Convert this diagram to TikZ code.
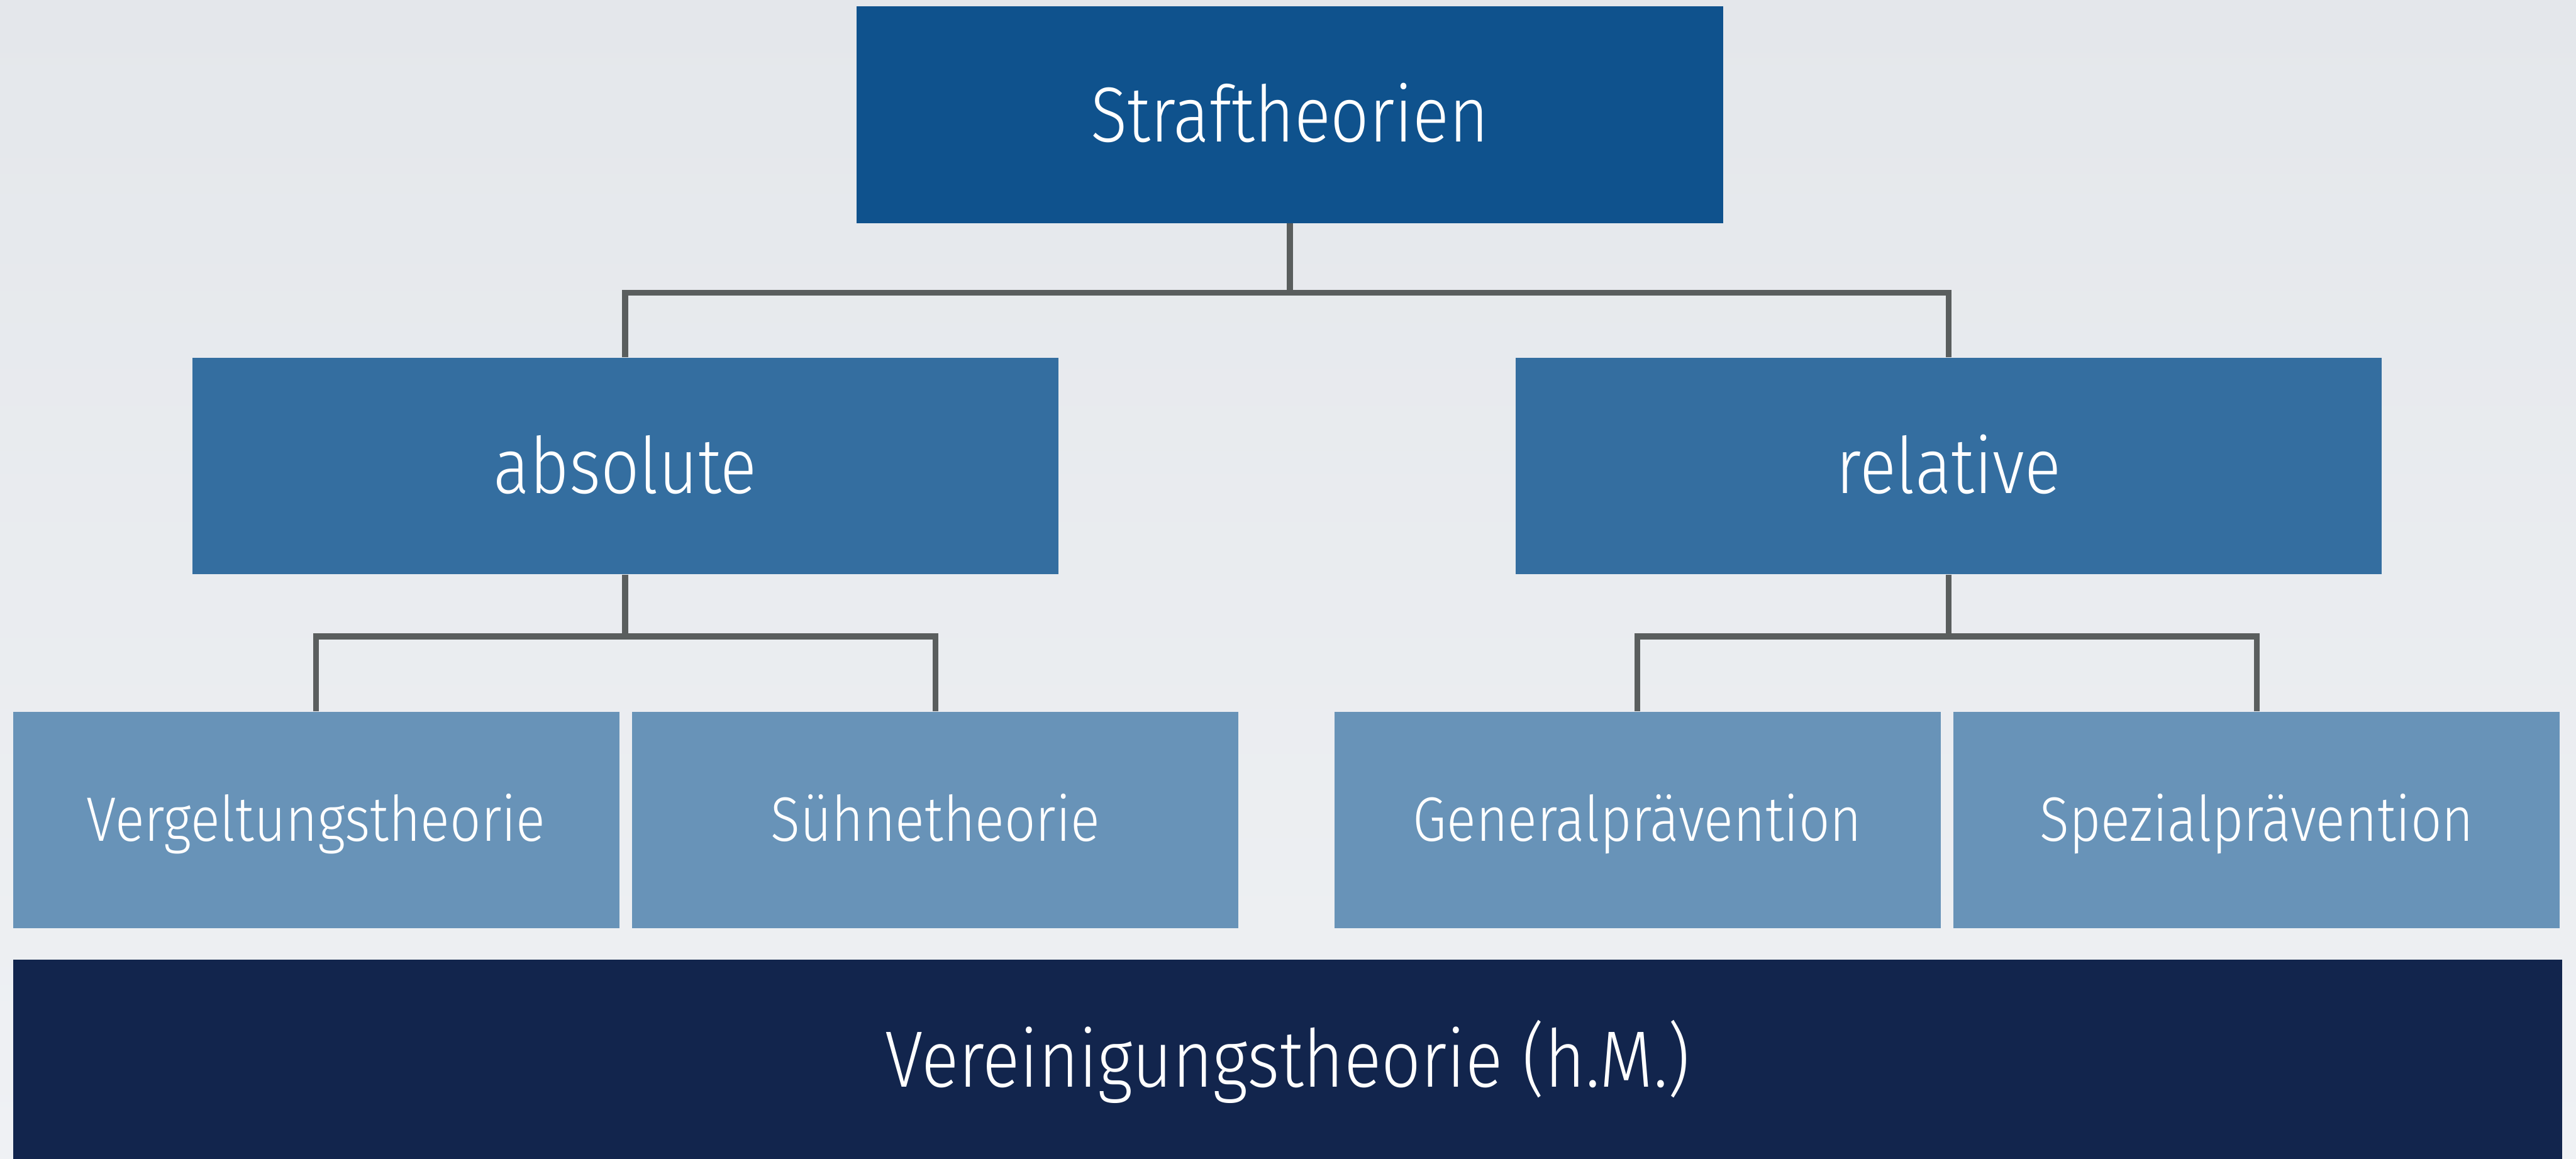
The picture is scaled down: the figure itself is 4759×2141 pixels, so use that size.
\documentclass[tikz,border=0pt]{standalone}
\usepackage{fontspec}
\setmainfont{Fira Sans Light}[FakeStretch=0.87]

\begin{document}
\begin{tikzpicture}[x=0.1mm, y=-0.1mm, line join=miter]

	\definecolor{bgTop}{RGB}{228,231,235}
	\definecolor{bgBot}{RGB}{239,241,244}
	\definecolor{blueTop}{RGB}{15,82,141}
	\definecolor{blueMid}{RGB}{52,110,160}
	\definecolor{blueLeaf}{RGB}{104,147,184}
	\definecolor{navyBase}{RGB}{18,37,77}
	\definecolor{grayLink}{RGB}{90,94,94}

	\tikzset{
		box/.style={rectangle, inner sep=0pt, text=white, text depth=0pt},
		topbox/.style={box, fill=blueTop, minimum width=160mm, minimum height=40mm, text height=10mm, font=\fontsize{41}{48}\selectfont},
		midbox/.style={box, fill=blueMid, minimum width=160mm, minimum height=40mm, text height=10mm, font=\fontsize{41}{48}\selectfont},
		leafbox/.style={box, fill=blueLeaf, minimum width=112mm, minimum height=40mm, text height=7.9mm, font=\fontsize{33}{40}\selectfont},
		basebox/.style={box, fill=navyBase, minimum width=470.9mm, minimum height=36.8mm, text height=10.3mm, font=\fontsize{42}{50}\selectfont},
		link/.style={draw=grayLink, line width=1.1mm},
	}

	% --- background
	\useasboundingbox (0,0) rectangle (4759,2141);
	\shade[top color=bgTop, bottom color=bgBot] (0,0) rectangle (4759,2141);

	% --- boxes
	\node[topbox] (straf) at (2383,212) {Straftheorien};

	\node[midbox] (absolut) at (1155,861) {absolute};
	\node[midbox] (relativ) at (3600,861) {relative};

	\node[leafbox] (vergeltung) at (584,1515) {Vergeltungstheorie};
	\node[leafbox] (suehne) at (1728,1515) {Sühnetheorie};
	\node[leafbox] (general) at (3025,1515) {Generalprävention};
	\node[leafbox] (spezial) at (4169,1515) {Spezialprävention};

	\node[basebox] (vereinigung) at (2379,1957) {Vereinigungstheorie (h.M.)};

	% --- links
	\draw[link] (straf.south) -- ++(0,128) -| (absolut.north);
	\draw[link] (straf.south) -- ++(0,128) -| (relativ.north);

	\draw[link] (absolut.south) -- ++(0,114) -| (vergeltung.north);
	\draw[link] (absolut.south) -- ++(0,114) -| (suehne.north);

	\draw[link] (relativ.south) -- ++(0,114) -| (general.north);
	\draw[link] (relativ.south) -- ++(0,114) -| (spezial.north);

\end{tikzpicture}
\end{document}
